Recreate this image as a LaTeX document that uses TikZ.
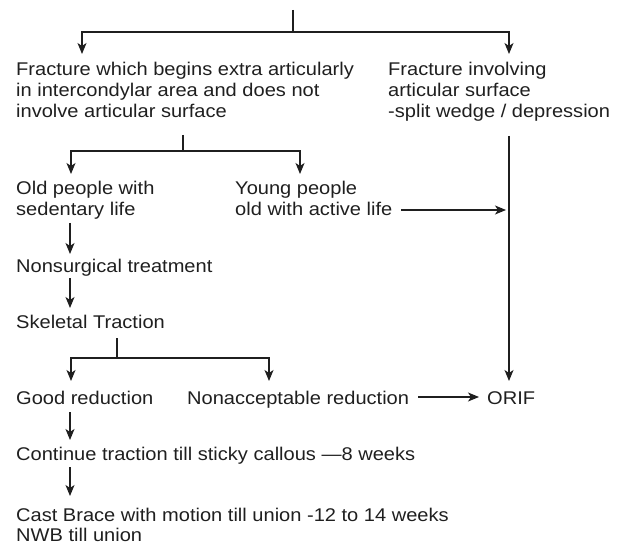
\documentclass[tikz,border=0pt]{standalone}
\usepackage{fontspec}
\setmainfont{Liberation Sans}[FakeStretch=1.09]
\usetikzlibrary{arrows.meta}
\begin{document}
\begin{tikzpicture}[x=1bp,y=-1bp,
  % multi-line nodes sit on the baseline of their last line
  txt/.style={anchor=base west, inner sep=0pt, align=left,
    font=\fontsize{18.4bp}{21bp}\selectfont, text=black!88},
  link/.style={line width=1.3bp, draw=black!88},
  arr/.style={link, -{Stealth[length=11bp,width=9bp,inset=3bp]}}]
\useasboundingbox (0,0) rectangle (624,547);

% text blocks
\node[txt] (fracL) at (16,118) {Fracture which begins extra articularly\\in intercondylar area and does not\\involve articular surface};
\node[txt] (fracR) at (388,118) {Fracture involving\\articular surface\\-split wedge / depression};
\node[txt] (old) at (16,216) {Old people with\\sedentary life};
\node[txt] (young) at (235,216) {Young people\\old with active life};
\node[txt] (nonsurg) at (16,272) {Nonsurgical treatment};
\node[txt] (skel) at (16,328) {Skeletal Traction};
\node[txt] (good) at (16,404) {Good reduction};
\node[txt] (nonacc) at (187,404) {Nonacceptable reduction};
\node[txt] (orif) at (487,404) {ORIF};
\node[txt] (cont) at (16,460) {Continue traction till sticky callous —8 weeks};
\node[txt, font=\fontsize{18.4bp}{20bp}\selectfont] (cast) at (16,541) {Cast Brace with motion till union -12 to 14 weeks\\NWB till union};

% branch points and connector ends
\coordinate (root) at (293,10);
\coordinate (rootj) at (293,32);
\coordinate (fracL-in) at (82,54);
\coordinate (fracR-in) at (509,54);
\coordinate (fracL-out) at (183,135);
\coordinate (fracLj) at (183,151);
\coordinate (old-in) at (71,174);
\coordinate (young-in) at (300,174);
\coordinate (fracR-out) at (509,136);
\coordinate (orif-in) at (509,381);
\coordinate (young-out) at (401,210);
\coordinate (fracR-side) at (506,210);
\coordinate (old-out) at (70,223);
\coordinate (nonsurg-in) at (70,254);
\coordinate (nonsurg-out) at (70,278);
\coordinate (skel-in) at (70,308);
\coordinate (skel-out) at (117,338);
\coordinate (skelj) at (117,358);
\coordinate (good-in) at (71,381);
\coordinate (nonacc-in) at (269,381);
\coordinate (nonacc-out) at (418,397);
\coordinate (orif-side) at (479,397);
\coordinate (good-out) at (70,412);
\coordinate (cont-in) at (70,440);
\coordinate (cont-out) at (70,467);
\coordinate (cast-in) at (70,496);

% connectors
\draw[link] (root) -- (rootj);
\draw[arr] (rootj) -| (fracL-in);
\draw[arr] (rootj) -| (fracR-in);
\draw[link] (fracL-out) -- (fracLj);
\draw[arr] (fracLj) -| (old-in);
\draw[arr] (fracLj) -| (young-in);
\draw[arr] (fracR-out) -- (orif-in);
\draw[arr] (young-out) -- (fracR-side);
\draw[arr] (old-out) -- (nonsurg-in);
\draw[arr] (nonsurg-out) -- (skel-in);
\draw[link] (skel-out) -- (skelj);
\draw[arr] (skelj) -| (good-in);
\draw[arr] (skelj) -| (nonacc-in);
\draw[arr] (nonacc-out) -- (orif-side);
\draw[arr] (good-out) -- (cont-in);
\draw[arr] (cont-out) -- (cast-in);
\end{tikzpicture}
\end{document}
